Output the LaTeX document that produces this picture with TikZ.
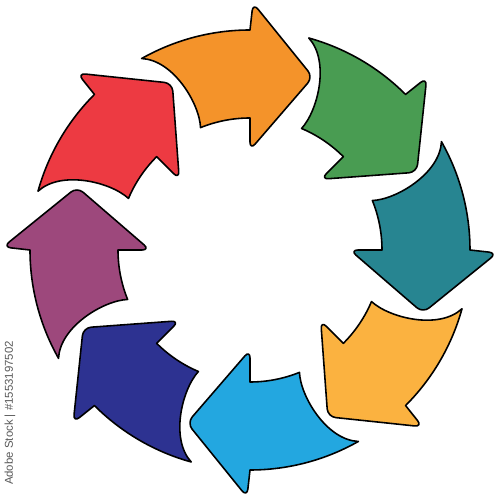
\documentclass[tikz,border=0pt]{standalone}
\usepackage{fontspec}
\setmainfont{Liberation Sans}
\definecolor{arrOrange}{RGB}{244,147,42}
\definecolor{arrGreen}{RGB}{73,156,82}
\definecolor{arrTeal}{RGB}{39,133,145}
\definecolor{arrYellow}{RGB}{251,178,64}
\definecolor{arrSky}{RGB}{35,167,224}
\definecolor{arrNavy}{RGB}{45,50,145}
\definecolor{arrPurple}{RGB}{157,72,124}
\definecolor{arrRed}{RGB}{237,58,66}
\tikzset{
  cyclearrow/.style={draw=black,line width=0.9pt,line join=round},
  stocklabel/.style={rotate=90,text=black!65,font=\fontsize{6.5}{7}\selectfont,inner sep=0pt}
}
\begin{document}
\begin{tikzpicture}[x=0.02cm,y=0.02cm]
  \useasboundingbox (-250,-246) rectangle (250,250);
  %% eight arrows round the circle
  \foreach \ang/\col in {90/arrOrange,45/arrGreen,0/arrTeal,-45/arrYellow,-90/arrSky,-135/arrNavy,180/arrPurple,135/arrRed}
  {
    \begin{scope}[rotate=\ang]
      \draw[cyclearrow,fill=\col] (0:220) [rounded corners=4.5pt] -- (-0.7:247) -- (-20:184) -- (0:100) [sharp corners] -- (0:132)
        arc[start angle=0,end angle=22,radius=132]
        .. controls (19:155) and (22:205) .. (29.5:220)
        arc[start angle=29.5,end angle=0,radius=220] -- cycle;
    \end{scope}
  }
  %% stock label
  \node[stocklabel] (stock) at (-240,-163) {Adobe Stock | \#1553197502};
\end{tikzpicture}
\end{document}
